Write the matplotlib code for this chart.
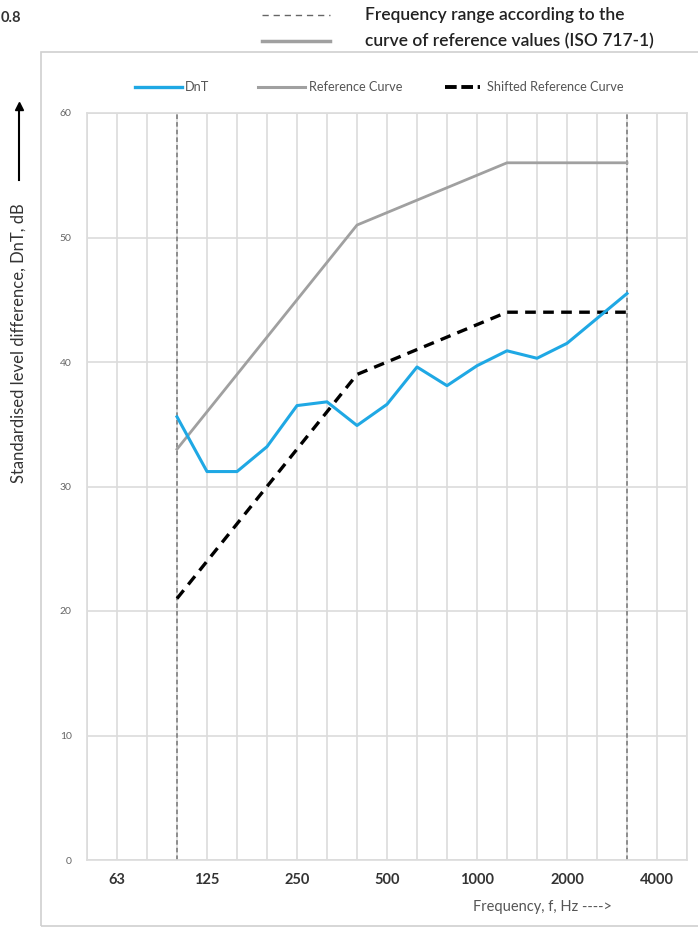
import matplotlib.pyplot as plt
from matplotlib.lines import Line2D
from matplotlib.patches import Rectangle

plt.rcParams['font.family'] = ['Lato', 'DejaVu Sans']

# third-octave bands shown on the category axis
bands = ['50', '63', '80', '100', '125', '160', '200', '250', '315', '400', '500',
         '630', '800', '1000', '1250', '1600', '2000', '2500', '3150', '4000', '5000']
labelled = ['63', '125', '250', '500', '1000', '2000', '4000']

# measured and reference values, 100 Hz .. 3150 Hz
meas_bands = ['100', '125', '160', '200', '250', '315', '400', '500', '630', '800',
              '1000', '1250', '1600', '2000', '2500', '3150']
dnt = [35.6, 31.2, 31.2, 33.2, 36.5, 36.8, 34.9, 36.6, 39.6, 38.1,
       39.7, 40.9, 40.3, 41.5, 43.5, 45.5]
ref_curve = [33, 36, 39, 42, 45, 48, 51, 52, 53, 54, 55, 56, 56, 56, 56, 56]
shifted_curve = [21, 24, 27, 30, 33, 36, 39, 40, 41, 42, 43, 44, 44, 44, 44, 44]
range_limits = ['100', '3150']

BLUE = '#1fa8e4'
GREY = '#a0a0a0'
GRID = '#dcdcdc'

W, H = 698, 927
fig = plt.figure(figsize=(W / 100, H / 100), dpi=100)

def fx(px):
    return px / W

def fy(py):
    return 1 - py / H

# outer chart frame
fig.patches.append(Rectangle((fx(41), fy(926)), fx(700) - fx(41), fy(52) - fy(926),
                             transform=fig.transFigure, fill=False,
                             edgecolor='#d0d0d0', linewidth=1.2))

ax = fig.add_axes([fx(87), fy(860), fx(687) - fx(87), fy(113) - fy(860)])
xpos = {b: i for i, b in enumerate(bands)}
mx = [xpos[b] for b in meas_bands]

ax.plot(mx, ref_curve, color=GREY, linewidth=2.0, zorder=3)
ax.plot(mx, shifted_curve, color='black', linewidth=2.4, dashes=(3.2, 2.2), zorder=4)
ax.plot(mx, dnt, color=BLUE, linewidth=2.2, zorder=5)
for b in range_limits:
    ax.axvline(xpos[b], color='#777777', linewidth=1.1, dashes=(3, 2), zorder=2)

ax.set_xlim(0, len(bands) - 1)
ax.set_ylim(0, 60)
ax.set_xticks(range(len(bands)))
ax.set_xticklabels([b if b in labelled else '' for b in bands],
                   fontsize=10.5, fontweight='bold', color='#333333')
ax.set_yticks(range(0, 61, 10))
ax.set_yticklabels([str(v) for v in range(0, 61, 10)], fontsize=7.5, color='#666666')
ax.tick_params(axis='both', length=0)
ax.tick_params(axis='x', pad=9)
ax.tick_params(axis='y', pad=11)
ax.grid(True, color=GRID, linewidth=1.2, zorder=0)
for s in ax.spines.values():
    s.set_color(GRID)
    s.set_linewidth(1.2)

# legend row inside the frame
leg_y = fy(87)
legend_items = [(135, 182, 185, 'DnT', dict(color=BLUE, linewidth=2.4)),
                (258, 305, 309, 'Reference Curve', dict(color=GREY, linewidth=2.2)),
                (445, 480, 487, 'Shifted Reference Curve',
                 dict(color='black', linewidth=2.8, dashes=(3, 1.2)))]
for x0, x1, xt, txt, style in legend_items:
    fig.add_artist(Line2D([fx(x0), fx(x1)], [leg_y, leg_y], transform=fig.transFigure, **style))
    fig.text(fx(xt), leg_y, txt, fontsize=9.2, color='#555555', va='center', ha='left')

# header key above the chart
fig.add_artist(Line2D([fx(262), fx(330)], [fy(15), fy(15)], transform=fig.transFigure,
                      color='#666666', linewidth=1.0, dashes=(4.5, 3.5)))
fig.add_artist(Line2D([fx(262), fx(330)], [fy(41), fy(41)], transform=fig.transFigure,
                      color=GREY, linewidth=2.5))
fig.text(fx(365), fy(15), 'Frequency range according to the', fontsize=12.5,
         fontweight='semibold', color='#222222', va='center', ha='left')
fig.text(fx(365), fy(41), 'curve of reference values (ISO 717-1)', fontsize=12.5,
         fontweight='semibold', color='#222222', va='center', ha='left')
fig.text(fx(1), fy(18), '0.8', fontsize=10.5, fontweight='bold', color='#333333',
         va='center', ha='left')

# axis titles
fig.text(fx(19), fy(343), 'Standardised level difference, DnT, dB', rotation=90,
         fontsize=12, color='#333333', va='center', ha='center')
fig.add_artist(Line2D([fx(19), fx(19)], [fy(180), fy(110)], transform=fig.transFigure,
                      color='black', linewidth=1.5))
fig.add_artist(Line2D([fx(19)], [fy(106)], transform=fig.transFigure, marker='^',
                      markersize=6, color='black'))
fig.text(fx(473), fy(907), 'Frequency, f, Hz ---->', fontsize=10.5, color='#555555',
         va='center', ha='left')

fig.savefig('out.png', dpi=100)
